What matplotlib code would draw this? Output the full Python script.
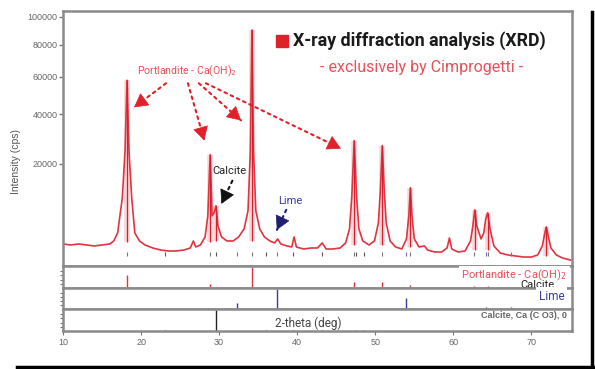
import numpy as np
import matplotlib
matplotlib.use("Agg")
import matplotlib.pyplot as plt
from matplotlib.lines import Line2D

theta = [10.0, 11.0, 12.0, 13.0, 14.0, 15.0, 16.0, 16.5, 17.0, 17.6, 17.95, 18.2,
         18.45, 18.8, 19.2, 19.8, 20.5, 21.5, 22.5, 23.5, 24.5, 25.5, 26.3, 26.7,
         27.0, 27.6, 28.2, 28.55, 28.85, 29.1, 29.35, 29.6, 29.85, 30.3, 31.0, 31.8,
         32.5, 33.2, 33.7, 34.0, 34.2, 34.4, 34.7, 35.2, 35.8, 36.5, 37.1, 37.5,
         37.9, 38.7, 39.3, 39.6, 39.9, 40.8, 41.8, 42.6, 43.2, 43.7, 44.6, 45.5,
         46.2, 46.7, 47.0, 47.3, 47.6, 47.9, 48.4, 49.2, 49.9, 50.4, 50.65, 50.9,
         51.15, 51.4, 51.9, 52.6, 53.4, 54.0, 54.3, 54.5, 54.7, 55.0, 55.6, 56.3,
         56.7, 57.6, 58.5, 59.2, 59.5, 59.8, 60.6, 61.5, 62.2, 62.5, 62.75, 63.0,
         63.55, 63.9, 64.15, 64.4, 64.7, 65.2, 66.0, 67.0, 68.0, 69.0, 70.0, 70.8,
         71.4, 71.7, 71.9, 72.1, 72.5, 73.2, 74.0, 75.0]
intensite = [2071, 1963, 2071, 1963, 1859, 1963, 2071, 2411, 3444, 10120, 24612, 57943,
             24612, 10120, 3444, 2411, 1963, 1658, 1469, 1378, 1378, 1469, 1658, 2411,
             1757, 1963, 2904, 6247, 23132, 6247, 6828, 8284, 4498, 2904, 2411, 2411,
             2904, 4029, 7230, 24612, 90356, 24612, 7230, 4029, 2904, 2411, 2181, 2652,
             2071, 1859, 1757, 2904, 1757, 1562, 1658, 1658, 2181, 1562, 1562, 1658,
             2181, 4029, 10607, 28513, 10607, 4029, 2411, 1963, 2411, 4992, 11877, 26527,
             11877, 4992, 2411, 1757, 1562, 2652, 6247, 12673, 6247, 2652, 1757, 1859,
             1469, 1291, 1291, 1658, 2777, 1562, 1291, 1378, 2411, 4498, 7435, 4498,
             2652, 3444, 5692, 6828, 4029, 1859, 1206, 1046, 970, 896, 896, 1046,
             1859, 3304, 4339, 3304, 1658, 1046, 826, 694]

# pics principaux (traits verticaux sur le diffractogramme)
pics_pos = [18.2, 28.85, 29.6, 34.2, 47.3, 50.9, 54.5, 62.75, 64.4, 71.9]
pics_haut = [57943, 23132, 8284, 90356, 28513, 26527, 12673, 7435, 6828, 4339]
pics_bas = [2300, 2300, 2400, 2400, 2000, 2000, 1800, 1500, 1500, 1000]

# fiches de reference (intensite relative)
portlandite_pos = [18.2, 28.85, 34.2, 47.3, 50.9, 54.5, 62.7, 64.4]
portlandite_rel = [60, 20, 100, 30, 30, 15, 8, 8]
lime_pos = [32.3, 37.4, 54.0, 64.2, 67.4]
lime_rel = [30, 100, 57, 10, 10]
calcite_pos = [23.1, 29.6, 36.0, 39.4, 43.2, 47.5, 48.5]
calcite_rel = [5, 100, 5, 5, 5, 5, 5]

yticks = [20000, 40000, 60000, 80000, 100000]
xticks = [10, 20, 30, 40, 50, 60, 70]

ROUGE = '#e2333f'
ROUGE_CLAIR = '#e8505a'
BLEU = '#3c3c96'
GRIS = '#8a8a8a'
POLICE = ['Roboto', 'DejaVu Sans']
POLICE_AX = ['Liberation Sans', 'DejaVu Sans']

fig = plt.figure(figsize=(5.95, 3.69), dpi=100)
W, H = 595.0, 369.0


def boite(x0, y0, x1, y1):
    # pixels (haut-gauche) -> coordonnees figure
    return [x0 / W, 1 - y1 / H, (x1 - x0) / W, (y1 - y0) / H]


ax = fig.add_axes(boite(63, 11, 572, 266))
ax1 = fig.add_axes(boite(63, 266, 572, 288), sharex=ax)
ax2 = fig.add_axes(boite(63, 288, 572, 309), sharex=ax)
ax3 = fig.add_axes(boite(63, 309, 572, 331), sharex=ax)

# --- diffractogramme
ax.set_yscale('function', functions=(np.sqrt, np.square))
ax.vlines(pics_pos, pics_bas, pics_haut, color='#f4a0a6', lw=4, alpha=0.45, zorder=1)
ax.vlines(pics_pos, pics_bas, pics_haut, color='#d41f2e', lw=0.9, zorder=3)
ax.plot(theta, intensite, color=ROUGE, lw=1.2, zorder=2)

# petits reperes sous la courbe
ax.vlines(portlandite_pos, 1000, 1250, color='#777777', lw=0.8)
ax.vlines(lime_pos, 1000, 1250, color='#7070c0', lw=0.8)
ax.vlines(calcite_pos, 1000, 1250, color='#555555', lw=0.8)

ax.set_xlim(10, 75.2)
ax.set_ylim(370, 104500)
ax.set_yticks(yticks)
ax.set_yticklabels([str(v) for v in yticks], fontsize=6.5, color='#666666',
                   family=POLICE_AX)
ax.tick_params(axis='y', length=3, width=1, color='#777777', pad=1)
ax.tick_params(axis='x', bottom=False, labelbottom=False)
ax.set_ylabel('Intensity (cps)', fontsize=7.5, color='#555555', family=POLICE_AX)
ax.yaxis.set_label_coords(-0.083, 0.41)

# titre
ax.plot([0.43], [0.882], 's', color='#e0202a', ms=8, transform=ax.transAxes,
        clip_on=False)
ax.text(0.452, 0.882, 'X-ray diffraction analysis (XRD)', transform=ax.transAxes,
        fontsize=12.8, fontweight='bold', color='#1a1a1a', va='center',
        family=POLICE)
ax.text(0.705, 0.78, '- exclusively by Cimprogetti -', transform=ax.transAxes,
        fontsize=11.5, color=ROUGE_CLAIR, ha='center', va='center', family=POLICE)


def fleche(depart, pointe, couleur):
    # trait pointille + tete pleine
    ax.annotate('', xy=pointe, xytext=depart,
                arrowprops=dict(arrowstyle='-', lw=1.5, color=couleur,
                                linestyle=(0, (1.3, 2.0)), shrinkA=0, shrinkB=0))
    p0 = ax.transData.transform(depart)
    p1 = ax.transData.transform(pointe)
    d = (p0 - p1) / np.hypot(*(p0 - p1))
    ax.annotate('', xy=pointe, xytext=(d[0] * 10, d[1] * 10),
                textcoords='offset pixels',
                arrowprops=dict(arrowstyle='-|>,head_length=0.9,head_width=0.5',
                                lw=0.5, color=couleur, shrinkA=0, shrinkB=0))


# annotations
ax.text(25.9, 63250, 'Portlandite - Ca(OH)$_2$', color=ROUGE_CLAIR, fontsize=7.6,
        ha='center', va='center', family=POLICE)
for depart, pointe in [((23.2, 56220), (19.1, 43420)),
                       ((26.0, 56220), (28.1, 28520)),
                       ((27.4, 56220), (32.8, 37180)),
                       ((28.3, 56220), (45.6, 25370))]:
    fleche(depart, pointe, '#e0202a')

ax.text(31.3, 17670, 'Calcite', color='#222222', fontsize=8, ha='center',
        va='center', family=POLICE)
fleche((31.7, 14630), (30.3, 8726), '#111111')
ax.text(39.1, 9410, 'Lime', color=BLEU, fontsize=8, ha='center', va='center',
        family=POLICE)
fleche((38.6, 7435), (37.4, 3878), '#202070')

# --- fiches de reference
ax1.vlines(portlandite_pos, 0, portlandite_rel, color=ROUGE, lw=1)
ax2.vlines(lime_pos, 0, lime_rel, color=BLEU, lw=1)
ax3.vlines(calcite_pos, 0, calcite_rel, color='#222222', lw=1)

for a in (ax1, ax2, ax3):
    a.set_ylim(0, 105)
    a.set_yticks([20, 40, 60, 80])
    a.set_yticklabels([])
    a.tick_params(axis='y', length=2, color='#777777')
for a in (ax, ax1, ax2):
    a.tick_params(axis='x', bottom=False, labelbottom=False)
for a in (ax, ax1, ax2, ax3):
    for s in a.spines.values():
        s.set_color(GRIS)
        s.set_linewidth(1.8)

ax3.set_xticks(xticks)
ax3.set_xticklabels([str(v) for v in xticks], fontsize=6.5, color='#666666',
                    family=POLICE_AX)
ax3.tick_params(axis='x', length=3, color='#777777', pad=2)
ax3.text(0.481, 0.36, '2-theta (deg)', transform=ax3.transAxes, fontsize=8.5,
         color='#444444', ha='center', va='center', family=POLICE)

# etiquettes des fiches
ax1.text(0.99, 0.55, 'Portlandite - Ca(OH)$_2$', transform=ax1.transAxes,
         fontsize=8, color=ROUGE_CLAIR, ha='right', va='center', family=POLICE,
         bbox=dict(facecolor='white', edgecolor='none', pad=2))
ax1.text(0.965, 0.12, 'Calcite', transform=ax1.transAxes, fontsize=8,
         color='#222222', ha='right', va='center', family=POLICE)
ax2.text(0.985, 0.6, 'Lime', transform=ax2.transAxes, fontsize=8.5, color=BLEU,
         ha='right', va='center', family=POLICE,
         bbox=dict(facecolor='white', edgecolor='none', pad=2))
ax3.text(0.99, 0.7, 'Calcite, Ca (C O3), 0', transform=ax3.transAxes,
         fontsize=6.5, color='#666666', ha='right', va='center', family=POLICE_AX,
         fontweight='bold')

# cadre noir exterieur (ombre)
fig.add_artist(Line2D([592 / W, 592 / W], [1 - 12 / H, 1 - 367 / H],
                      color='black', lw=2.5))
fig.add_artist(Line2D([17 / W, 593 / W], [1 - 367 / H, 1 - 367 / H],
                      color='black', lw=2.5))

fig.savefig('out.png', dpi=100)
